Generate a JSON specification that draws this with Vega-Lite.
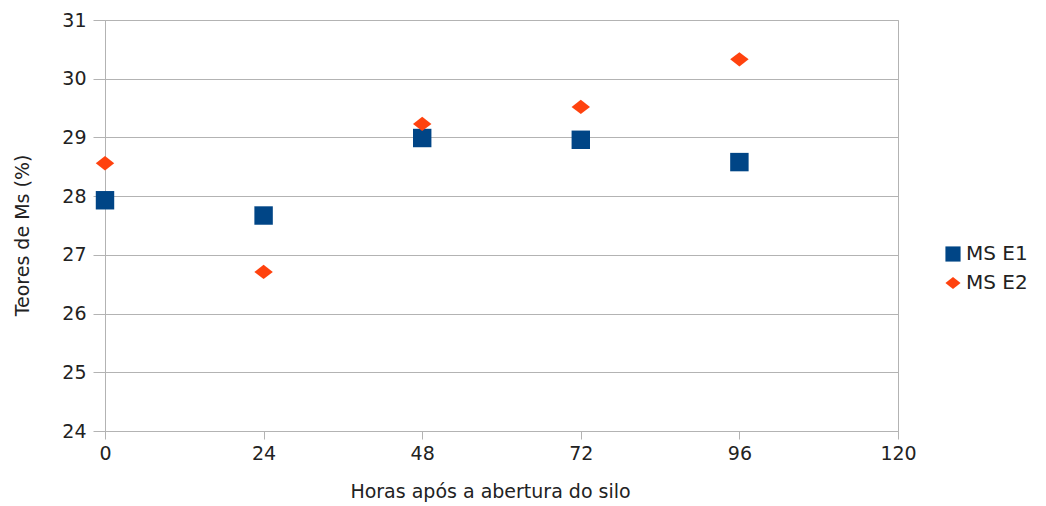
{
  "$schema": "https://vega.github.io/schema/vega-lite/v6.json",
  "width": 793,
  "height": 411,
  "autosize": {"type": "none"},
  "padding": {"left": 105, "top": 20, "right": 148, "bottom": 75},
  "background": "white",
  "config": {
    "font": "DejaVu Sans",
    "view": {"stroke": "#b3b3b3", "strokeWidth": 1},
    "axis": {
      "labelFont": "DejaVu Sans",
      "titleFont": "DejaVu Sans",
      "labelColor": "#222222",
      "titleColor": "#222222",
      "titleFontWeight": "normal",
      "domainColor": "#b3b3b3",
      "tickColor": "#b3b3b3",
      "gridColor": "#b3b3b3",
      "gridWidth": 1,
      "domainWidth": 1,
      "tickWidth": 1
    },
    "legend": {
      "orient": "none",
      "legendX": 838,
      "legendY": 224,
      "labelFontSize": 20,
      "labelColor": "#222222",
      "labelFont": "DejaVu Sans",
      "symbolSize": 230,
      "symbolStrokeWidth": 0,
      "symbolOpacity": 1,
      "rowPadding": 9,
      "labelOffset": 3
    }
  },
  "data": {
    "values": [
      {"horas": 0, "serie": "MS E1", "ms": 27.93},
      {"horas": 24, "serie": "MS E1", "ms": 27.67},
      {"horas": 48, "serie": "MS E1", "ms": 28.99},
      {"horas": 72, "serie": "MS E1", "ms": 28.96},
      {"horas": 96, "serie": "MS E1", "ms": 28.58},
      {"horas": 0, "serie": "MS E2", "ms": 28.56},
      {"horas": 24, "serie": "MS E2", "ms": 26.71},
      {"horas": 48, "serie": "MS E2", "ms": 29.23},
      {"horas": 72, "serie": "MS E2", "ms": 29.52},
      {"horas": 96, "serie": "MS E2", "ms": 30.33}
    ]
  },
  "mark": {"type": "point", "filled": true, "opacity": 1, "size": 340, "strokeWidth": 0},
  "encoding": {
    "x": {
      "field": "horas",
      "type": "quantitative",
      "scale": {"domain": [0, 120], "nice": false, "zero": false},
      "axis": {
        "values": [0, 24, 48, 72, 96, 120],
        "grid": false,
        "tickSize": 8,
        "labelFlush": false,
        "labelPadding": 5,
        "labelFontSize": 19,
        "title": "Horas após a abertura do silo",
        "titleFontSize": 19,
        "titlePadding": 19,
        "titleX": 385
      }
    },
    "y": {
      "field": "ms",
      "type": "quantitative",
      "scale": {"domain": [24, 31], "nice": false, "zero": false},
      "axis": {
        "values": [24, 25, 26, 27, 28, 29, 30, 31],
        "grid": true,
        "tickSize": 12,
        "labelFlush": false,
        "labelPadding": 7,
        "labelFontSize": 19,
        "title": "Teores de Ms (%)",
        "titleFontSize": 19,
        "titlePadding": 29,
        "titleY": 215
      }
    },
    "shape": {
      "field": "serie",
      "type": "nominal",
      "title": null,
      "scale": {
        "domain": ["MS E1", "MS E2"],
        "range": ["square", "M-1,0L0,-0.78L1,0L0,0.78Z"]
      }
    },
    "color": {
      "field": "serie",
      "type": "nominal",
      "title": null,
      "scale": {"domain": ["MS E1", "MS E2"], "range": ["#004586", "#ff420e"]}
    }
  }
}
